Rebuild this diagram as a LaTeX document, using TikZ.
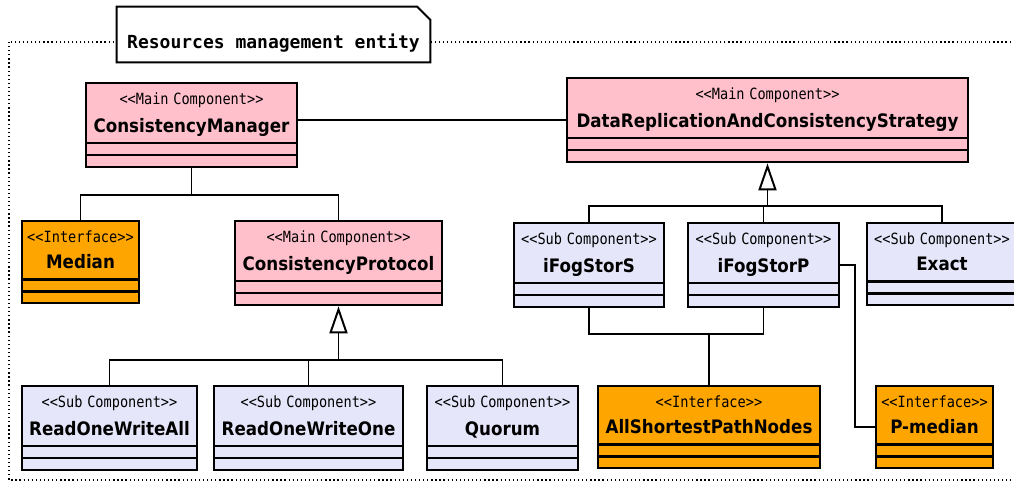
\documentclass[tikz,border=0pt]{standalone}
\usepackage{fontspec}
\setmainfont{DejaVu Sans}
\newfontfamily\stereofont{DejaVu Sans Mono}[FakeStretch=0.88]
\newfontfamily\namefont{DejaVu Sans}[FakeStretch=0.9]
\newfontfamily\titlefont{DejaVu Sans Mono}
\usetikzlibrary{shapes.multipart,arrows.meta,calc}

\definecolor{mainpink}{RGB}{255,192,203}
\definecolor{sublav}{RGB}{230,230,250}
\definecolor{ifaceorange}{RGB}{255,165,0}

% stereotype line and class name, first compartment
\newcommand{\umlhead}[2]{\rule{0pt}{11pt}{\stereofont\fontsize{11}{12}\selectfont <<#1>>}\\[6.5pt]%
  {\namefont\bfseries\fontsize{13.2}{12}\selectfont #2}\rule[-3.6pt]{0pt}{0pt}}

\begin{document}
\begin{tikzpicture}
[x=0.25mm,y=-0.25mm,%
  umlclass/.style={rectangle split,rectangle split parts=3,draw,line width=1.5pt,%
    fill=#1,align=center,inner xsep=0pt,inner ysep=3.5pt,anchor=north,%
    font=\fontsize{10}{12}\selectfont},%
  link/.style={draw,line width=1.4pt},%
  gen/.style={link,-{Triangle[open,length=6.75mm,width=4.5mm]}},%
  entity/.style={fill=white,minimum width=78.25mm,minimum height=13.75mm,%
    inner sep=0pt,text height=19.6pt,text depth=0pt,%
    font=\titlefont\bfseries\fontsize{12.8}{14}\selectfont}]
\useasboundingbox (0,0) rectangle (1014,482);
\draw[dotted,line width=0.9pt] (9,42) rectangle (1030,480);
\node[entity] (ttl) at (273.5,34.5) {Resources management entity};
\draw[line width=1.4pt] (ttl.south west) -- (ttl.north west) -- ([xshift=-3.25mm]ttl.north east)
  -- ([yshift=-3.25mm]ttl.north east) -- (ttl.south east) -- cycle;

\node[umlclass=mainpink,text width=52.75mm] (cm) at (191.5,82)
  {\umlhead{Main Component}{ConsistencyManager}\nodepart{two}\nodepart{three}};
\node[umlclass=mainpink,text width=100.25mm] (dracs) at (767.5,77)
  {\umlhead{Main Component}{DataReplicationAndConsistencyStrategy}\nodepart{two}\nodepart{three}};
\node[umlclass=ifaceorange,text width=29.25mm] (median) at (80.5,220)
  {\umlhead{Interface}{Median}\nodepart{two}\nodepart{three}};
\node[umlclass=mainpink,text width=51.75mm] (cp) at (338.5,220)
  {\umlhead{Main Component}{ConsistencyProtocol}\nodepart{two}\nodepart{three}};
\node[umlclass=sublav,text width=37.5mm] (ifs) at (589,222)
  {\umlhead{Sub Component}{iFogStorS}\nodepart{two}\nodepart{three}};
\node[umlclass=sublav,text width=37.75mm] (ifp) at (763.5,222)
  {\umlhead{Sub Component}{iFogStorP}\nodepart{two}\nodepart{three}};
\node[umlclass=sublav,text width=37.5mm] (exact) at (942,222)
  {\umlhead{Sub Component}{Exact}\nodepart{two}\nodepart{three}};
\node[umlclass=sublav,text width=43.75mm] (rowa) at (109.5,385)
  {\umlhead{Sub Component}{ReadOneWriteAll}\nodepart{two}\nodepart{three}};
\node[umlclass=sublav,text width=47.25mm] (rowo) at (308.5,385)
  {\umlhead{Sub Component}{ReadOneWriteOne}\nodepart{two}\nodepart{three}};
\node[umlclass=sublav,text width=37.75mm] (quorum) at (502.5,385)
  {\umlhead{Sub Component}{Quorum}\nodepart{two}\nodepart{three}};
\node[umlclass=ifaceorange,text width=55.5mm] (aspn) at (709,385)
  {\umlhead{Interface}{AllShortestPathNodes}\nodepart{two}\nodepart{three}};
\node[umlclass=ifaceorange,text width=29.25mm] (pmed) at (934.5,385)
  {\umlhead{Interface}{P-median}\nodepart{two}\nodepart{three}};

\coordinate (cmj) at ($(cm.south)+(0,27)$);
\coordinate (cpj) at ($(cp.south)+(0,54)$);
\coordinate (dj) at ($(dracs.south)+(0,43)$);
\coordinate (sj) at ($(ifs.south)+(0,26)$);

\draw[link] (dracs.west) -- (dracs.west -| cm.east);
\draw[link] (cm.south) -- (cmj);
\draw[link] (median.north) |- (cmj) -| (cp.north);
\draw[link] (rowa.north) |- (cpj) -| (quorum.north);
\draw[link] (rowo.north) -- (rowo.north |- cpj);
\draw[gen] (cpj) -- (cp.south);
\draw[link] (ifs.north) |- (dj) -| (exact.north);
\draw[link] (ifp.north) -- (ifp.north |- dj);
\draw[gen] (dj) -- (dracs.south);
\draw[link] (ifs.south) -- (sj) -| (ifp.south);
\draw[link] (aspn.north) -- (aspn.north |- sj);
\draw[link] (ifp.east) -- ++(15,0) |- (pmed.west);
\end{tikzpicture}
\end{document}
